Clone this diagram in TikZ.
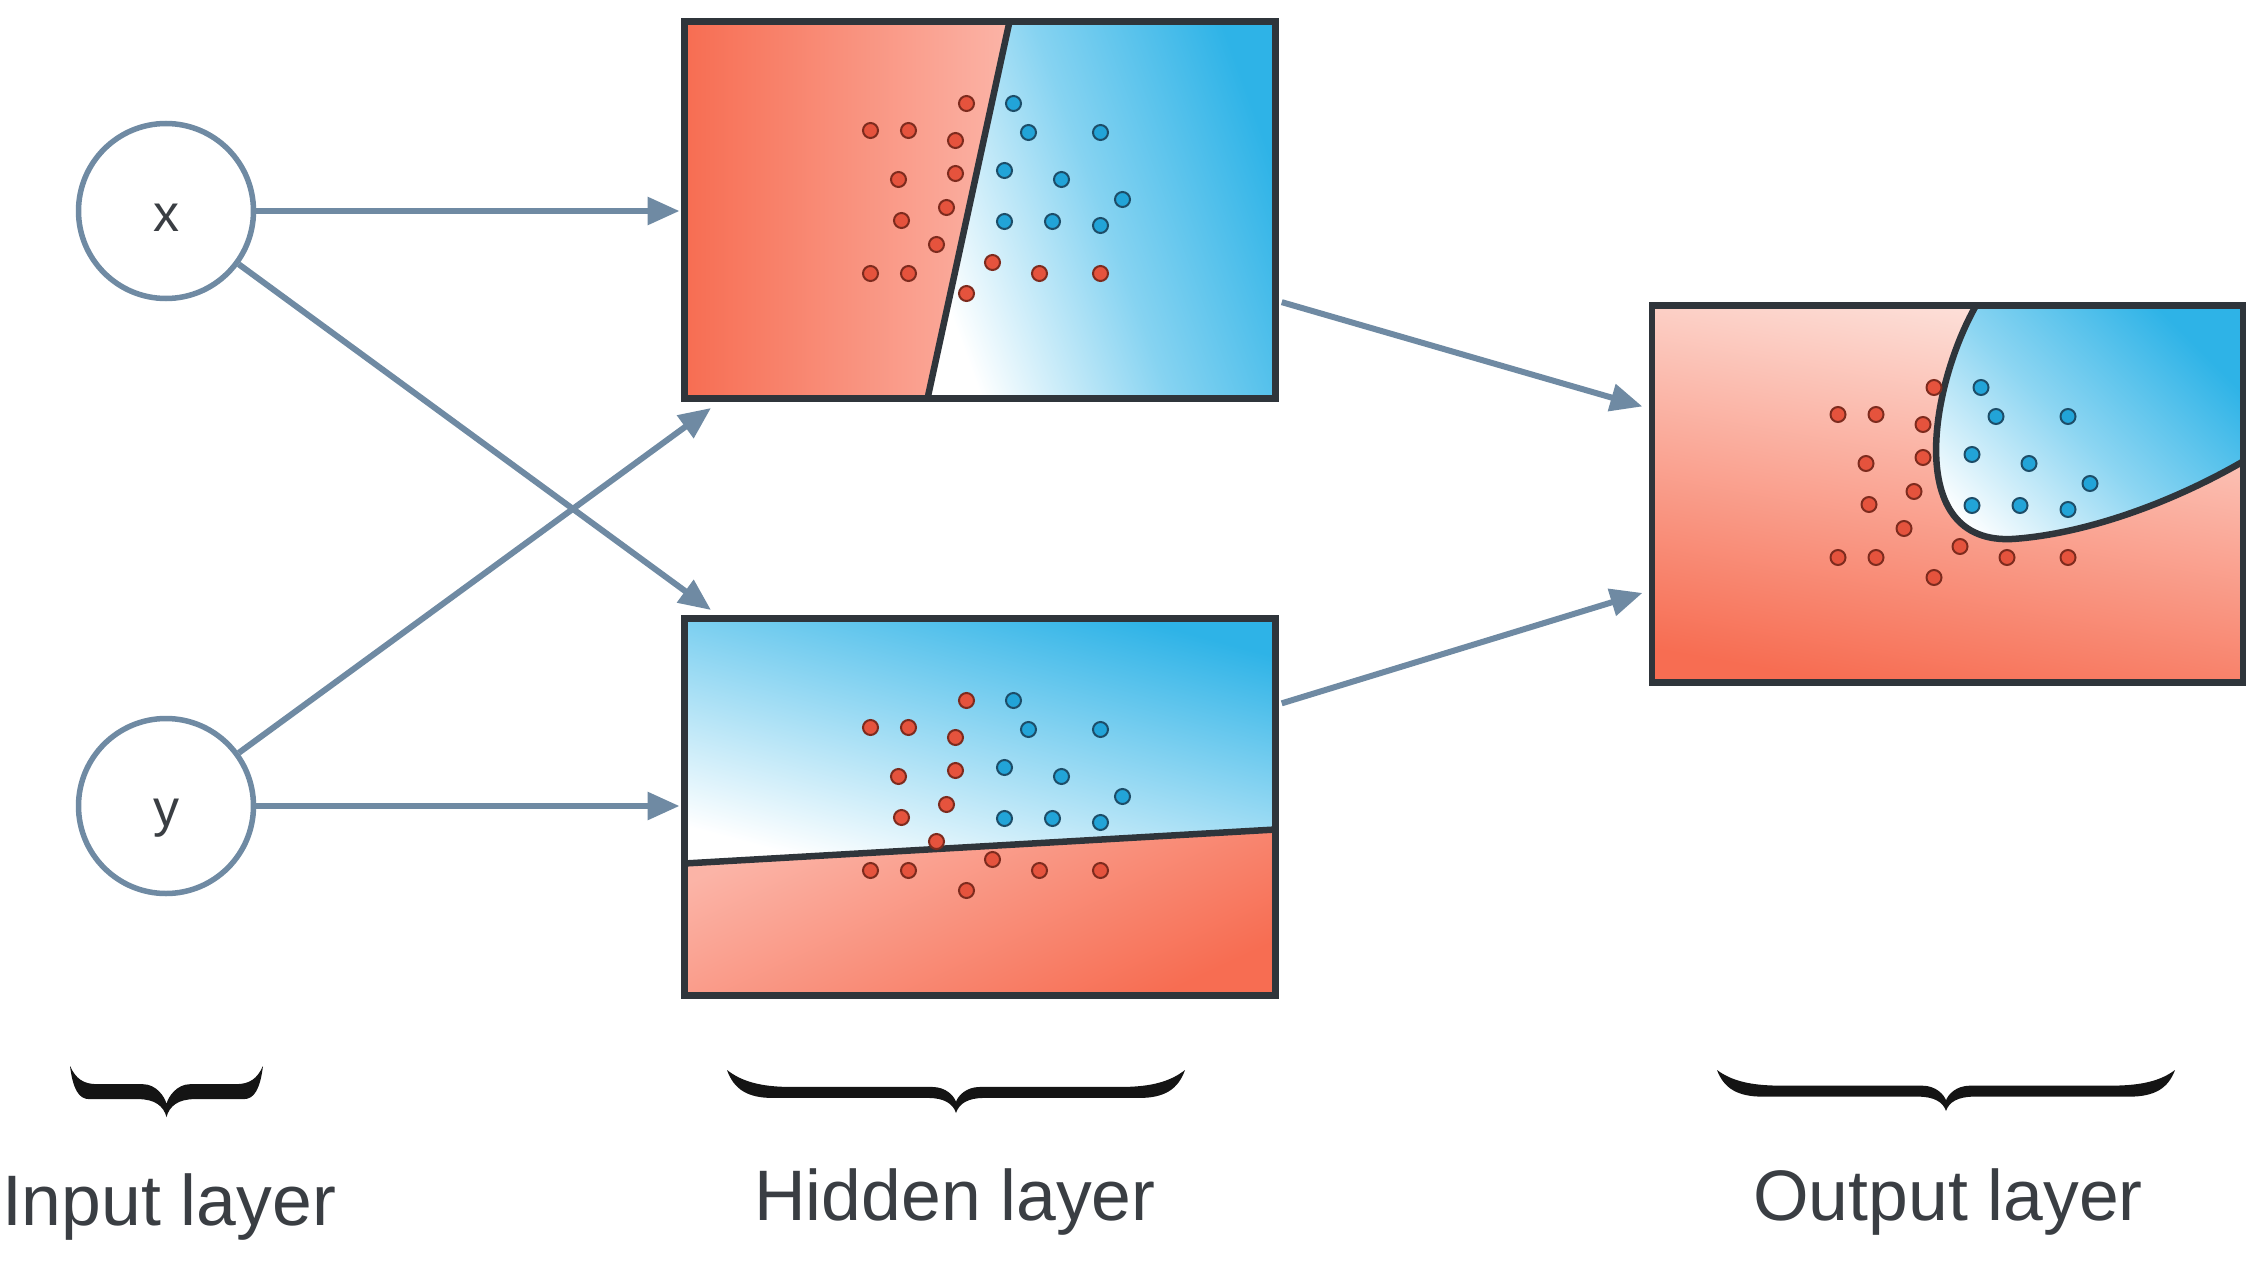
\documentclass[tikz,border=0pt]{standalone}
\usepackage{fontspec}
\setmainfont{Liberation Sans}
\usetikzlibrary{arrows.meta,calc}

\definecolor{redS}{HTML}{F76D52}
\definecolor{redP}{HTML}{FBB4A7}
\definecolor{redVP}{HTML}{FDE4DE}
\definecolor{blueS}{HTML}{2EB3E7}
\definecolor{frame}{HTML}{2F353B}
\definecolor{linkgray}{HTML}{6F8AA3}
\definecolor{rdotfill}{HTML}{E5533D}
\definecolor{rdotline}{HTML}{7D2B1E}
\definecolor{bdotfill}{HTML}{22A4D8}
\definecolor{bdotline}{HTML}{1D4D68}
\definecolor{ink}{HTML}{3A3E43}

\tikzset{
  neuron/.style={circle, draw=linkgray, line width=5.5pt, minimum size=175pt,
    inner sep=0pt, fill=white, text=ink, font=\fontsize{52}{60}\selectfont,
    text height=40pt, text depth=0pt},
  panel/.style={rectangle, draw=frame, line width=6.5pt, minimum width=591pt,
    minimum height=377pt, inner sep=0pt, outer sep=0pt},
  linkarrow/.style={draw=linkgray, line width=6pt, -{Triangle[length=32pt,width=27pt]}},
  cut/.style={draw=frame, line width=6.5pt},
  rdot/.style={fill=rdotfill, draw=rdotline, line width=2pt},
  bdot/.style={fill=bdotfill, draw=bdotline, line width=2pt},
  layerlabel/.style={anchor=base, inner sep=0pt, text=ink, font=\fontsize{71.5}{86}\selectfont},
  bracefill/.style={fill=black!92},
}

% the same training points appear in every panel (panel-local coordinates)
\newcommand\dotcloud{%
  \foreach \a/\b in {282/82,186/109,224/109,271/119,214/158,271/152,217/199,262/186,
                     252/223,186/252,224/252,308/241,355/252,416/252,282/272}
    \draw[rdot] (\a,\b) circle[radius=7.5pt];
  \foreach \a/\b in {329/82,344/111,416/111,320/149,377/158,438/178,320/200,368/200,416/204}
    \draw[bdot] (\a,\b) circle[radius=7.5pt];
}

% filled curly brace: left x, right x, top y, bottom y, bar thickness
\newcommand\drawbrace[5]{%
  \pgfmathsetmacro\brW{#2-#1}%
  \pgfmathsetmacro\brM{(#2-#1)/2}%
  \pgfmathsetmacro\brC{0.1*(#2-#1)}%
  \pgfmathsetmacro\brH{#4-#3}%
  \pgfmathsetmacro\brLo{0.65*\brH}%
  \pgfmathsetmacro\brUp{0.65*\brH-#5}%
  \begin{scope}[shift={(#1,#3)}]
    \fill[bracefill]
      (0,0) .. controls ({0.15*\brC},{0.45*\brH}) and ({0.45*\brC},\brLo) .. (\brC,\brLo)
      -- ({\brM-28},\brLo)
      .. controls ({\brM-12},\brLo) and ({\brM-3},{0.78*\brH}) .. (\brM,\brH)
      .. controls ({\brM+3},{0.78*\brH}) and ({\brM+12},\brLo) .. ({\brM+28},\brLo)
      -- ({\brW-\brC},\brLo)
      .. controls ({\brW-0.45*\brC},\brLo) and ({\brW-0.15*\brC},{0.45*\brH}) .. (\brW,0)
      .. controls ({\brW-0.3*\brC},{0.25*\brH}) and ({\brW-0.7*\brC},\brUp) .. ({\brW-1.4*\brC},\brUp)
      -- ({\brM+24},\brUp)
      .. controls ({\brM+10},\brUp) and ({\brM+2},{0.6*\brH}) .. (\brM,{0.74*\brH})
      .. controls ({\brM-2},{0.6*\brH}) and ({\brM-10},\brUp) .. ({\brM-24},\brUp)
      -- ({1.4*\brC},\brUp)
      .. controls ({0.7*\brC},\brUp) and ({0.3*\brC},{0.25*\brH}) .. (0,0) -- cycle;
  \end{scope}}

\begin{document}
\begin{tikzpicture}[x=1pt, y=-1pt]
\useasboundingbox (0,0) rectangle (2262,1271);
\fill[white] (0,0) rectangle (2262,1271);

% first hidden unit: almost vertical split
\begin{scope}[shift={(684.5,21.5)}]
  \shade[left color=redS, right color=redP] (0,0) -- (325,0) -- (243,377) -- (0,377) -- cycle;
  \shade[top color=white, bottom color=blueS, middle color=blueS!58!white, shading angle=110]
    (325,0) -- (591,0) -- (591,377) -- (243,377) -- cycle;
  \draw[cut] (325,0) -- (243,377);
  \dotcloud
\end{scope}

% second hidden unit: almost horizontal split
\begin{scope}[shift={(684.5,618.5)}]
  \shade[top color=white, bottom color=blueS, shading angle=165]
    (0,0) -- (591,0) -- (591,211) -- (0,245) -- cycle;
  \shade[top color=redP, bottom color=redS, shading angle=25]
    (0,245) -- (591,211) -- (591,377) -- (0,377) -- cycle;
  \draw[cut] (0,245) -- (591,211);
  \dotcloud
\end{scope}

% output unit: curved decision boundary
\begin{scope}[shift={(1652,305.5)}]
  \shade[top color=redVP, bottom color=redS, shading angle=-10] (0,0) rectangle (591,377);
  \shade[top color=white, bottom color=blueS, middle color=blueS!55!white, shading angle=135]
    (324,0) .. controls (277.6,81.5) and (250,245) .. (367,233)
    .. controls (438.5,226.7) and (522,196) .. (591,156) -- (591,0) -- cycle;
  \draw[cut] (324,0) .. controls (277.6,81.5) and (250,245) .. (367,233)
    .. controls (438.5,226.7) and (522,196) .. (591,156);
  \dotcloud
\end{scope}

% panel frames
\node[panel] (h1) at (980,210) {};
\node[panel] (h2) at (980,807) {};
\node[panel] (o) at (1947.5,494) {};

% input neurons
\node[neuron] (x) at (166,211) {x};
\node[neuron] (y) at (166,806) {y};

% connections
\coordinate (h1in) at (711,408);
\coordinate (h2in) at (711,610);
\draw[linkarrow, shorten >=5pt] (x) -- (x -| h1.west);
\draw[linkarrow] (x) -- (h2in);
\draw[linkarrow] (y) -- (h1in);
\draw[linkarrow, shorten >=5pt] (y) -- (y -| h2.west);
\draw[linkarrow, shorten <=6.5pt, shorten >=10pt] (h1.-17) -- (o.164);
\draw[linkarrow, shorten <=6.5pt, shorten >=10pt] (h2.19) -- (o.198);

% layer braces and captions
\drawbrace{70}{263}{1066}{1117}{15}
\drawbrace{727}{1185}{1070}{1113}{11}
\drawbrace{1717}{2175}{1070}{1111}{11}
\node[layerlabel] (lin) at (169,1225) {Input layer};
\node[layerlabel] (lhid) at (955,1220) {Hidden layer};
\node[layerlabel] (lout) at (1948,1220) {Output layer};
\end{tikzpicture}
\end{document}
